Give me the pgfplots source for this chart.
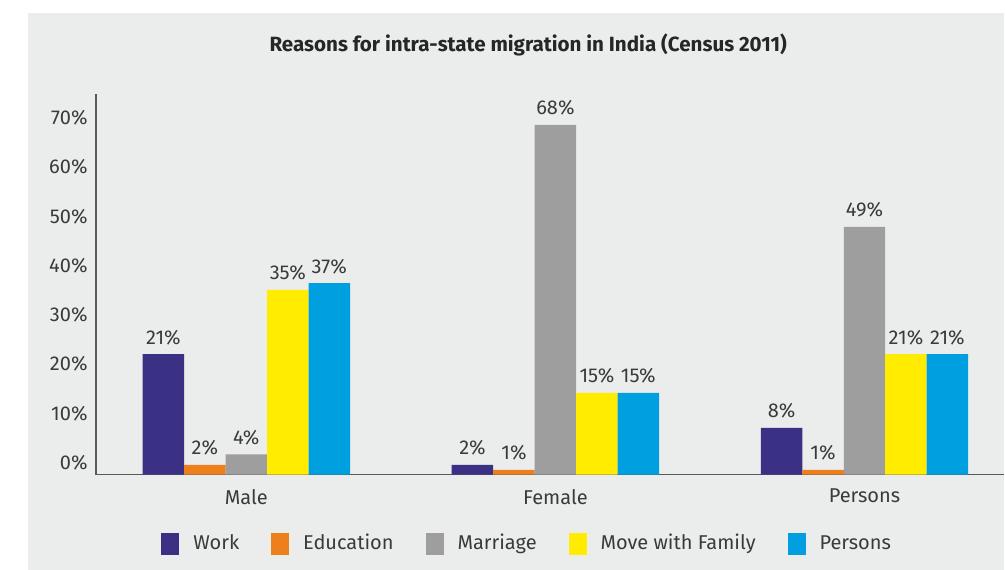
\documentclass[border=0pt]{standalone}
\usepackage{fontspec}
\setmainfont{Fira Sans}
\usepackage{pgfplots}
\usepackage{pgfplotstable}
\pgfplotsset{compat=1.18}
\definecolor{bg}{HTML}{EBECEC}
\definecolor{cwork}{HTML}{3A3185}
\definecolor{cedu}{HTML}{EE7F1D}
\definecolor{cmar}{HTML}{9D9E9D}
\definecolor{cmove}{HTML}{FFEC00}
\definecolor{cpers}{HTML}{00A0E0}
\definecolor{txt}{HTML}{3A3A3A}
\pgfplotsset{
  /pgfplots/ybar legend/.style={/pgfplots/legend image code/.code={\fill[##1] (0pt,-5.5pt) rectangle (9pt,5.5pt);}},
}
\pgfplotstableread{
x y lab
0 24.5 21
1 2.0 2
2 9.5 8
}\work
\pgfplotstableread{
x y lab
0 2.0 2
1 1.0 1
2 1.0 1
}\edu
\pgfplotstableread{
x y lab
0 4.1 4
1 71.0 68
2 50.3 49
}\mar
\pgfplotstableread{
x y lab
0 37.5 35
1 16.6 15
2 24.5 21
}\move
\pgfplotstableread{
x y lab
0 38.9 37
1 16.6 15
2 24.5 21
}\pers
\begin{document}
\begin{tikzpicture}
\fill[white] (0,0) rectangle (502.5pt,285pt);
\fill[bg] (14pt,0) rectangle (502.5pt,278.5pt);
\node[font=\bfseries\fontsize{10.3}{12}\selectfont, text=black!85] at (264.25pt,262.5pt) {Reasons for intra-state migration in India (Census 2011)};
\begin{axis}[
 at={(48pt,47.5pt)}, anchor=south west,
 scale only axis, width=454.5pt, height=190.5pt,
 xmin=-0.4866, xmax=2.4523, ymin=0, ymax=77.3,
 axis x line*=bottom, axis y line*=left,
 axis line style={-, draw=black!65, line width=0.7pt},
 ybar=0pt, bar width=20.75pt,
 xtick={0,1,2}, xticklabels={Male,Female,Persons},
 ytick={0,10,...,70}, yticklabel={\pgfmathprintnumber{\tick}\%},
 /pgf/number format/assume math mode=true,
 major tick length=0pt,
 tick label style={font=\fontsize{10}{12}\selectfont, text=txt},
 yticklabel style={inner sep=0pt, xshift=-4pt, yshift=6pt},
 xticklabel style={inner sep=0pt, yshift=-7pt},
 nodes near coords={\pgfplotspointmeta\%},
 point meta=explicit symbolic,
 every node near coord/.append style={font=\fontsize{10}{12}\selectfont, text=txt, anchor=base, inner sep=0pt, yshift=5pt},
 legend style={at={(0.4758,-0.1812)}, anchor=center, draw=none, fill=none, legend columns=5, font=\fontsize{10}{12}\selectfont, text=txt,
   /tikz/every odd column/.append style={column sep=5pt},
   /tikz/every even column/.append style={column sep=14pt}},
 clip=false,
]
\addplot[fill=cwork, draw=none] table[x=x,y=y,meta=lab]{\work};
\addplot[fill=cedu, draw=none] table[x=x,y=y,meta=lab]{\edu};
\addplot[fill=cmar, draw=none] table[x=x,y=y,meta=lab]{\mar};
\addplot[fill=cmove, draw=none] table[x=x,y=y,meta=lab]{\move};
\addplot[fill=cpers, draw=none] table[x=x,y=y,meta=lab]{\pers};
\legend{Work, Education, Marriage, Move with Family, Persons}
\end{axis}
\end{tikzpicture}
\end{document}
